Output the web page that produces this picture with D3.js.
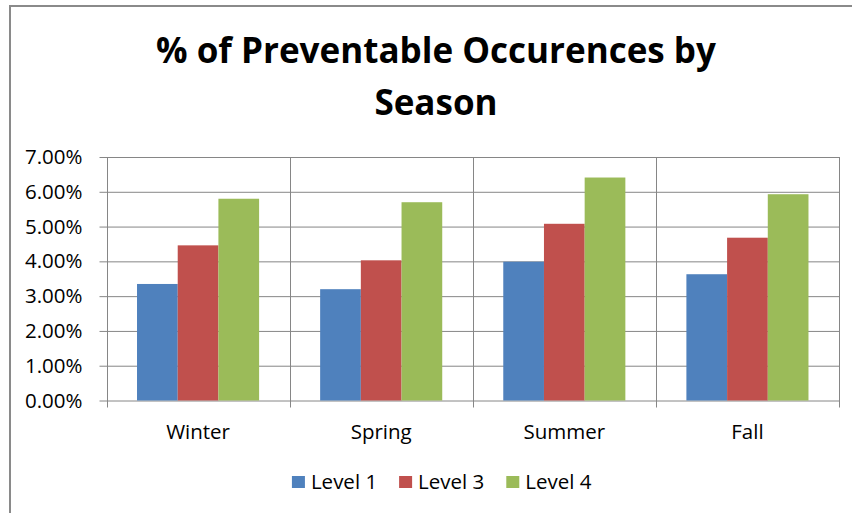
<!DOCTYPE html>
<html>
<head>
<meta charset="utf-8">
<script src="https://cdn.jsdelivr.net/npm/d3@7"></script>
<style>
    body { margin: 0; background: #fff; }
    svg { display: block; font-family: 'Open Sans', sans-serif; }
</style>
</head>
<body>
<svg id="chart" width="852" height="513"></svg>
<script>
// DATA
const seasons = ['Winter', 'Spring', 'Summer', 'Fall'];
const levels = ['Level 1', 'Level 3', 'Level 4'];
const level1 = [3.35, 3.2, 3.99, 3.63];
const level3 = [4.46, 4.03, 5.08, 4.68];
const level4 = [5.8, 5.7, 6.41, 5.93];
const yTicks = [0, 1, 2, 3, 4, 5, 6, 7];
const colors = ['#4f81bd', '#c0504d', '#9bbb59'];
const titleLines = ['% of Preventable Occurences by', 'Season'];

const series = [level1, level3, level4];
const rows = seasons.map((s, i) => ({
    season: s,
    values: levels.map((l, j) => ({ level: l, value: series[j][i] }))
}));

const svg = d3.select('#chart');
const grid = '#868686';

// FRAME (cut off at right / bottom like the screenshot)
svg.append('rect')
    .attr('x', 10)
    .attr('y', 6)
    .attr('width', 900)
    .attr('height', 600)
    .attr('fill', 'none')
    .attr('stroke', '#8a8a8a')
    .attr('stroke-width', 2);

// TITLE
const title = svg.append('g').attr('font-weight', 'bold').attr('fill', '#000');
const titleText = title
    .selectAll('text')
    .data(titleLines)
    .enter()
    .append('text')
    .attr('x', 436)
    .attr('y', (d, i) => 63 + i * 52)
    .attr('text-anchor', 'middle')
    .attr('font-size', 36)
    .text(d => d);
// fit first line to width seen in the picture
const w0 = titleText.node().getComputedTextLength();
titleText.attr('font-size', 36 * 560 / w0);

// SCALES
const margin = { left: 106.5, right: 839, top: 157, bottom: 400.5 };
const x = d3.scaleBand().domain(seasons).range([margin.left, margin.right]);
const bw = x.bandwidth();
const gap = bw / 4.5 * 1.5;
const xSub = d3.scaleBand().domain(levels).range([gap / 2, bw - gap / 2]);
const y = d3.scaleLinear().domain([0, 7]).range([margin.bottom, margin.top]);

// Y AXIS + GRID
const yAxis = svg.append('g')
    .attr('transform', `translate(${margin.left - 7},0)`)
    .call(d3.axisLeft(y)
        .tickValues(yTicks)
        .tickSize(-(margin.right - margin.left + 7))
        .tickPadding(17)
        .tickFormat(d => d.toFixed(2) + '%'));
yAxis.select('.domain').remove();
yAxis.selectAll('.tick line').attr('stroke', grid);
yAxis.selectAll('.tick text')
    .attr('font-size', 20.5)
    .attr('font-family', "'Open Sans', sans-serif")
    .attr('fill', '#000');

// vertical lines at band edges
const edges = seasons.map(s => x(s)).concat([margin.right]);
svg.append('g')
    .selectAll('line')
    .data(edges)
    .enter()
    .append('line')
    .attr('x1', d => Math.round(d) + 0.5)
    .attr('x2', d => Math.round(d) + 0.5)
    .attr('y1', margin.top)
    .attr('y2', margin.bottom + 7)
    .attr('stroke', grid);

// BARS
const groups = svg.append('g')
    .selectAll('g')
    .data(rows)
    .enter()
    .append('g')
    .attr('transform', d => `translate(${x(d.season)},0)`);

groups.selectAll('rect')
    .data(d => d.values)
    .enter()
    .append('rect')
    .attr('x', d => xSub(d.level))
    .attr('y', d => y(d.value))
    .attr('width', xSub.bandwidth())
    .attr('height', d => y(0) - y(d.value))
    .attr('fill', (d, i) => colors[i]);

// X AXIS LABELS
const xAxis = svg.append('g')
    .attr('transform', `translate(0,${margin.bottom})`)
    .call(d3.axisBottom(x).tickSize(0).tickPadding(0));
xAxis.select('.domain').remove();
xAxis.selectAll('.tick text')
    .attr('y', 38)
    .attr('dy', 0)
    .attr('font-size', 20.5)
    .attr('font-family', "'Open Sans', sans-serif")
    .attr('fill', '#000');

// LEGEND
const legend = svg.append('g');
const items = legend.selectAll('g')
    .data(levels)
    .enter()
    .append('g');
items.append('rect')
    .attr('width', 13)
    .attr('height', 12)
    .attr('y', 476)
    .attr('fill', (d, i) => colors[i]);
items.append('text')
    .attr('x', 19)
    .attr('y', 489)
    .attr('font-size', 20.5)
    .attr('fill', '#000')
    .text(d => d);

let lx = 0;
const offsets = [];
items.each(function () {
    offsets.push(lx);
    lx += 19 + d3.select(this).select('text').node().getComputedTextLength() + 22;
});
const legendW = lx - 22;
const startX = 441.7 - legendW / 2;
items.attr('transform', (d, i) => `translate(${startX + offsets[i]},0)`);
</script>
</body>
</html>
